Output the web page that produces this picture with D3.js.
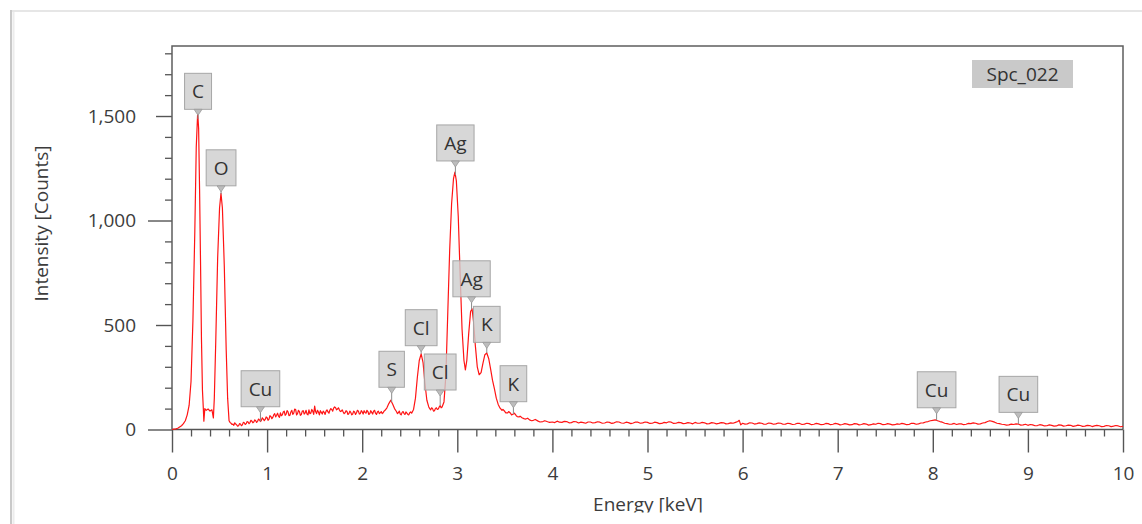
<!DOCTYPE html>
<html><head><meta charset="utf-8">
<script src="https://cdn.jsdelivr.net/npm/d3@7"></script>
<style>
html,body{margin:0;padding:0;background:#fff;}
svg{display:block;font-family:"Open Sans",sans-serif;}
</style></head><body>
<svg id="chart" width="1142" height="524"></svg>
<script>
// ---------- data ----------
const spectrumLow = [[0.00,0],[0.02,2],[0.04,3],[0.06,6],[0.08,12],[0.10,18],[0.12,28],[0.14,42],[0.16,70],[0.18,115],[0.20,230],[0.22,520],[0.24,950],[0.255,1350],[0.27,1515],[0.28,1440],[0.29,1150],[0.30,800],[0.31,430],[0.32,190],[0.33,95],[0.335,40],[0.345,100],[0.36,92],[0.38,98],[0.40,88],[0.42,94],[0.435,55],[0.445,150],[0.46,420],[0.48,820],[0.50,1060],[0.515,1130],[0.53,1060],[0.55,780],[0.57,380],[0.585,150],[0.60,42],[0.61,34],[0.62,30],[0.63,24],[0.64,26],[0.65,20],[0.66,32],[0.67,26],[0.68,22],[0.69,16],[0.70,18],[0.71,28],[0.72,26],[0.73,18],[0.74,22],[0.75,34],[0.76,32],[0.77,24],[0.78,28],[0.79,38],[0.80,36],[0.81,28],[0.82,33],[0.83,44],[0.84,40],[0.85,32],[0.86,36],[0.87,46],[0.88,42],[0.89,34],[0.90,39],[0.91,50],[0.92,46],[0.93,38],[0.94,44],[0.95,56],[0.96,50],[0.97,42],[0.98,48],[0.99,60]];
const spectrumMid = [[1.00,56],[1.01,44],[1.02,50],[1.03,66],[1.04,62],[1.05,52],[1.06,58],[1.07,70],[1.08,76],[1.09,60],[1.10,68],[1.11,78],[1.12,64],[1.13,58],[1.14,80],[1.15,66],[1.16,70],[1.17,84],[1.18,88],[1.19,68],[1.20,74],[1.21,90],[1.22,84],[1.23,66],[1.24,68],[1.25,84],[1.26,92],[1.27,72],[1.28,78],[1.29,98],[1.30,96],[1.31,70],[1.32,76],[1.33,92],[1.34,86],[1.35,68],[1.36,72],[1.37,88],[1.38,90],[1.39,74],[1.40,80],[1.41,92],[1.42,74],[1.43,70],[1.44,94],[1.45,76],[1.46,78],[1.47,96],[1.48,88],[1.49,72],[1.50,112],[1.51,86],[1.52,76],[1.53,92],[1.54,84],[1.55,70],[1.56,90],[1.57,82],[1.58,74],[1.59,88],[1.60,82],[1.61,72],[1.62,88],[1.63,94],[1.64,84],[1.65,78],[1.66,92],[1.67,100],[1.68,96],[1.69,88],[1.70,102],[1.71,108],[1.72,104],[1.73,94],[1.74,98],[1.75,104],[1.76,94],[1.77,86],[1.78,88],[1.79,94],[1.80,84],[1.81,76],[1.82,80],[1.83,90],[1.84,86],[1.85,72],[1.86,76],[1.87,88],[1.88,82],[1.89,70],[1.90,74],[1.91,88],[1.92,84],[1.93,72],[1.94,80],[1.95,92],[1.96,88],[1.97,74],[1.98,76],[1.99,90],[2.00,84],[2.01,74],[2.02,90],[2.03,82],[2.04,78],[2.05,92],[2.06,86],[2.07,72],[2.08,76],[2.09,90],[2.10,82],[2.11,74],[2.12,88],[2.13,92],[2.14,78],[2.15,72],[2.16,84],[2.17,88],[2.18,76],[2.19,80],[2.20,86],[2.21,76],[2.22,80],[2.23,88],[2.24,92],[2.26,104],[2.28,124],[2.30,140],[2.32,122],[2.34,100],[2.36,86],[2.37,76],[2.38,80],[2.39,88],[2.40,74],[2.41,70],[2.42,82],[2.43,86],[2.44,76],[2.45,72],[2.46,84],[2.47,78],[2.48,72],[2.49,70],[2.50,80],[2.51,84],[2.52,78],[2.54,96],[2.56,150],[2.58,250],[2.60,330],[2.62,362],[2.64,320],[2.66,220],[2.68,140],[2.70,108],[2.71,100],[2.72,94],[2.73,104],[2.74,100],[2.75,88],[2.76,90],[2.77,100],[2.78,104],[2.79,96],[2.80,98],[2.81,108],[2.82,114],[2.83,104],[2.84,108],[2.86,132],[2.88,260],[2.90,560],[2.92,860],[2.94,1080],[2.96,1200],[2.975,1232],[2.99,1190],[3.01,1020],[3.03,740],[3.05,480],[3.07,330],[3.085,285],[3.10,330],[3.12,460],[3.14,565],[3.155,578],[3.17,520],[3.19,400],[3.21,300],[3.23,262],[3.25,272],[3.27,318],[3.29,358],[3.31,366],[3.33,340],[3.35,290],[3.37,236],[3.39,196],[3.41,150],[3.43,120],[3.45,102],[3.47,92],[3.48,96],[3.50,86],[3.51,80],[3.53,80],[3.54,86],[3.56,78],[3.57,70],[3.59,74],[3.60,78],[3.62,66],[3.63,62],[3.65,60],[3.66,64],[3.68,56],[3.70,52],[3.72,50],[3.74,54],[3.76,46],[3.78,42],[3.80,44],[3.82,48],[3.85,40],[3.87,36],[3.90,38],[3.92,42],[3.95,37],[3.97,34]];
const spectrumHigh = [[4.000,36],[4.025,33],[4.050,40],[4.075,35],[4.100,34],[4.125,39],[4.150,38],[4.175,32],[4.200,33],[4.225,38],[4.250,37],[4.275,31],[4.300,35],[4.325,33],[4.350,30],[4.375,36],[4.400,36],[4.425,31],[4.450,33],[4.475,37],[4.500,35],[4.525,30],[4.550,31],[4.575,36],[4.600,34],[4.625,29],[4.650,32],[4.675,37],[4.700,36],[4.725,31],[4.750,30],[4.775,35],[4.800,33],[4.825,28],[4.850,31],[4.875,36],[4.900,35],[4.925,30],[4.950,32],[4.975,36],[5.000,34],[5.025,29],[5.050,30],[5.075,35],[5.100,33],[5.125,28],[5.150,29],[5.175,34],[5.200,32],[5.225,37],[5.250,35],[5.275,29],[5.300,30],[5.325,34],[5.350,33],[5.375,28],[5.400,29],[5.425,33],[5.450,31],[5.475,27],[5.500,34],[5.525,30],[5.550,30],[5.575,34],[5.600,32],[5.625,27],[5.650,28],[5.675,33],[5.700,31],[5.725,27],[5.750,29],[5.775,33],[5.800,32],[5.825,27],[5.850,28],[5.875,32],[5.900,30],[5.925,34],[5.950,38],[5.965,44],[5.980,22],[6.000,30],[6.025,26],[6.050,27],[6.075,32],[6.100,31],[6.125,26],[6.150,28],[6.175,32],[6.200,30],[6.225,25],[6.250,26],[6.275,31],[6.300,29],[6.325,25],[6.350,27],[6.375,31],[6.400,30],[6.425,25],[6.450,26],[6.475,30],[6.500,28],[6.525,24],[6.550,25],[6.575,30],[6.600,29],[6.625,24],[6.650,26],[6.675,30],[6.700,28],[6.725,23],[6.750,25],[6.775,29],[6.800,27],[6.825,23],[6.850,24],[6.875,29],[6.900,28],[6.925,23],[6.950,25],[6.975,29],[7.000,27],[7.025,22],[7.050,24],[7.075,28],[7.100,26],[7.125,22],[7.150,23],[7.175,28],[7.200,27],[7.225,22],[7.250,24],[7.275,28],[7.300,26],[7.325,21],[7.350,23],[7.375,27],[7.400,25],[7.425,30],[7.450,28],[7.475,23],[7.500,24],[7.525,28],[7.550,26],[7.575,22],[7.600,23],[7.625,27],[7.650,25],[7.675,29],[7.700,27],[7.725,23],[7.750,24],[7.775,30],[7.800,29],[7.825,25],[7.850,27],[7.875,31],[7.900,32],[7.925,36],[7.950,38],[7.975,42],[8.000,44],[8.025,46],[8.050,42],[8.075,38],[8.100,35],[8.125,30],[8.150,28],[8.175,25],[8.200,26],[8.225,29],[8.250,24],[8.275,27],[8.300,27],[8.325,23],[8.350,25],[8.375,29],[8.400,28],[8.425,32],[8.450,30],[8.475,26],[8.500,27],[8.525,31],[8.550,33],[8.575,38],[8.600,42],[8.625,39],[8.650,35],[8.675,30],[8.700,28],[8.725,25],[8.750,24],[8.775,21],[8.800,22],[8.825,26],[8.850,24],[8.875,27],[8.900,26],[8.925,21],[8.950,22],[8.975,25],[9.000,20],[9.025,24],[9.050,22],[9.075,18],[9.100,19],[9.125,23],[9.150,21],[9.175,17],[9.200,18],[9.225,22],[9.250,20],[9.275,16],[9.300,17],[9.325,22],[9.350,21],[9.375,16],[9.400,18],[9.425,21],[9.450,20],[9.475,15],[9.500,17],[9.525,21],[9.550,19],[9.575,15],[9.600,16],[9.625,20],[9.650,19],[9.675,14],[9.700,17],[9.725,20],[9.750,18],[9.775,14],[9.800,15],[9.825,19],[9.850,18],[9.875,14],[9.900,16],[9.925,19],[9.950,17],[9.975,13],[10.000,15]];

const yMajorTicks = [0, 500, 1000, 1500];
const yMinorTicks = [100,200,300,400,600,700,800,900,1100,1200,1300,1400,1600,1700,1800];
const xMajorTicks = [0,1,2,3,4,5,6,7,8,9,10];
const xMinorTicks = [0.2,0.4,0.6,0.8,1.2,1.4,1.6,1.8,2.2,2.4,2.6,2.8,3.2,3.4,3.6,3.8,4.2,4.4,4.6,4.8,5.2,5.4,5.6,5.8,6.2,6.4,6.6,6.8,7.2,7.4,7.6,7.8,8.2,8.4,8.6,8.8,9.2,9.4,9.6,9.8];

const peakLabels = ["C","O","Cu","S","Cl","Cl","Ag","Ag","K","K","Cu","Cu"];
const peakEnergies = [0.274,0.516,0.93,2.31,2.62,2.82,2.98,3.15,3.31,3.59,8.04,8.90];
const peakLabelCounts = [1532,1166,109,202,401,189,1285,635,417,133,104,82];

const spectrumName = "Spc_022";
const xTitle = "Energy [keV]";
const yTitle = "Intensity [Counts]";

// ---------- layout ----------
const W = 1142, H = 524;
const L = 172, R = 1123, T = 46, B = 429.5;
const FONT = 19;
const axisColor = "#555";
const textColor = "#3c3c3c";

const svg = d3.select("#chart");
const spectrum = spectrumLow.concat(spectrumMid, spectrumHigh);

const x = d3.scaleLinear().domain([0, 10]).range([L, R]);
const y = d3.scaleLinear().domain([0, 1835]).range([B, T]);

// card border
svg.append("line").attr("x1", 10).attr("x2", W).attr("y1", 11).attr("y2", 11)
  .attr("stroke", "#e6e6e6").attr("stroke-width", 2);
svg.append("line").attr("x1", 11).attr("x2", 11).attr("y1", 10).attr("y2", H)
  .attr("stroke", "#c9c9c9").attr("stroke-width", 2);
svg.append("line").attr("x1", 13.5).attr("x2", 13.5).attr("y1", 12).attr("y2", H)
  .attr("stroke", "#ececec").attr("stroke-width", 2);

// clips
const defs = svg.append("defs");
defs.append("clipPath").attr("id", "plotclip")
  .append("rect").attr("x", L).attr("y", T).attr("width", R - L).attr("height", B - T + 1);
defs.append("clipPath").attr("id", "titleclip")
  .append("rect").attr("x", 0).attr("y", 0).attr("width", W).attr("height", 512.5);

// y axis major
const gyMaj = svg.append("g").attr("transform", `translate(${L},0)`)
  .call(d3.axisLeft(y).tickValues(yMajorTicks).tickSize(24).tickPadding(12)
    .tickSizeOuter(0).tickFormat(d3.format(",")));
gyMaj.select(".domain").remove();
gyMaj.selectAll(".tick line").attr("stroke", axisColor).attr("stroke-width", 1.4)
  .attr("x2", d => (d % 1000 === 0 ? -24 : -16));
gyMaj.selectAll(".tick text").attr("font-size", FONT).attr("fill", textColor)
  .attr("font-family", "Open Sans, sans-serif");

// y axis minor
const gyMin = svg.append("g").attr("transform", `translate(${L},0)`)
  .call(d3.axisLeft(y).tickValues(yMinorTicks).tickSize(7).tickSizeOuter(0).tickFormat(""));
gyMin.select(".domain").remove();
gyMin.selectAll(".tick line").attr("stroke", axisColor).attr("stroke-width", 1.3);

// x axis major
const gxMaj = svg.append("g").attr("transform", `translate(0,${B})`)
  .call(d3.axisBottom(x).tickValues(xMajorTicks).tickSize(23).tickPadding(14)
    .tickSizeOuter(0).tickFormat(d3.format("d")));
gxMaj.select(".domain").remove();
gxMaj.selectAll(".tick line").attr("stroke", axisColor).attr("stroke-width", 1.4);
gxMaj.selectAll(".tick text").attr("font-size", FONT).attr("fill", textColor)
  .attr("font-family", "Open Sans, sans-serif");

// x axis minor
const gxMin = svg.append("g").attr("transform", `translate(0,${B})`)
  .call(d3.axisBottom(x).tickValues(xMinorTicks).tickSize(7).tickSizeOuter(0).tickFormat(""));
gxMin.select(".domain").remove();
gxMin.selectAll(".tick line").attr("stroke", axisColor).attr("stroke-width", 1.3);

// frame and axis lines
svg.append("path")
  .attr("d", `M${L},${B}V${T}H${R}V${B}`)
  .attr("fill", "none").attr("stroke", "#5e5e5e").attr("stroke-width", 1.5);
svg.append("line").attr("x1", L).attr("x2", R).attr("y1", B).attr("y2", B)
  .attr("stroke", axisColor).attr("stroke-width", 1.5);

// spectrum
const line = d3.line().x(d => x(d[0])).y(d => y(d[1]));
svg.append("path").datum(spectrum)
  .attr("clip-path", "url(#plotclip)")
  .attr("d", line).attr("fill", "none")
  .attr("stroke", "#ff1414").attr("stroke-width", 1.2).attr("stroke-linejoin", "round");

// spectrum value at an energy (for label stems)
const bis = d3.bisector(d => d[0]).left;
function valueAt(e) {
  const i = Math.max(1, Math.min(spectrum.length - 1, bis(spectrum, e)));
  const a = spectrum[i - 1], b = spectrum[i];
  const t = (e - a[0]) / (b[0] - a[0]);
  return a[1] + t * (b[1] - a[1]);
}

// peak labels
const gLab = svg.append("g");
peakLabels.forEach((name, i) => {
  const cx = x(peakEnergies[i]);
  const by = y(peakLabelCounts[i]);
  const g = gLab.append("g");
  const rect = g.append("rect");
  const txt = g.append("text").attr("x", cx).attr("y", by - 18).attr("dy", "0.36em")
    .attr("text-anchor", "middle").attr("font-size", FONT).attr("fill", "#333")
    .text(name);
  const w = txt.node().getComputedTextLength() + 15;
  rect.attr("x", cx - w / 2).attr("y", by - 36).attr("width", w).attr("height", 36)
    .attr("fill", "#cdcdcd").attr("fill-opacity", 0.8)
    .attr("stroke", "#a6a6a6").attr("stroke-width", 1);
  txt.raise();
  const sy = y(valueAt(peakEnergies[i]));
  if (sy > by + 5) {
    g.append("line").attr("x1", cx).attr("x2", cx).attr("y1", by + 5).attr("y2", sy)
      .attr("stroke", "#8a8a8a").attr("stroke-width", 1);
  }
  g.append("path").attr("d", `M${cx - 4},${by}L${cx + 4},${by}L${cx},${by + 6}Z`)
    .attr("fill", "#bdbdbd").attr("stroke", "#999").attr("stroke-width", 0.8);
});

// spectrum name box
svg.append("rect").attr("x", 972).attr("y", 60).attr("width", 101).attr("height", 28)
  .attr("fill", "#c9c9c9");
svg.append("text").attr("x", 1022.5).attr("y", 74).attr("dy", "0.36em")
  .attr("text-anchor", "middle").attr("font-size", FONT).attr("fill", "#333")
  .text(spectrumName);

// axis titles
svg.append("text").attr("transform", "translate(48,223.5) rotate(-90)")
  .attr("text-anchor", "middle").attr("font-size", FONT).attr("fill", textColor)
  .text(yTitle);
svg.append("text").attr("x", 648).attr("y", 511).attr("clip-path", "url(#titleclip)")
  .attr("text-anchor", "middle").attr("font-size", FONT).attr("fill", textColor)
  .text(xTitle);
</script>
</body></html>
